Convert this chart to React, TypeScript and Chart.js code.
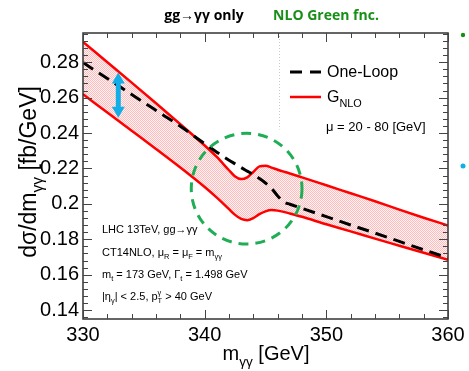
import { useEffect, useRef } from 'react';
import { Chart, registerables } from 'chart.js';
Chart.register(...registerables);

// ---- data ----
const massGeV = [330, 332, 334, 336, 338, 340, 341, 342, 342.5, 343, 343.5, 344, 344.5, 345, 345.5, 346, 346.5, 347, 348, 350, 352, 354, 356, 358, 360];
const gnloUpper = [0.2915, 0.28, 0.2685, 0.2568, 0.245, 0.233, 0.2265, 0.219, 0.2155, 0.214, 0.215, 0.218, 0.2212, 0.2215, 0.2205, 0.2193, 0.2182, 0.2172, 0.215, 0.2105, 0.206, 0.2015, 0.1968, 0.1922, 0.1878];
const gnloLower = [0.2619, 0.2516, 0.2413, 0.231, 0.2205, 0.2095, 0.2035, 0.197, 0.1938, 0.1915, 0.1908, 0.192, 0.1942, 0.1958, 0.1965, 0.1962, 0.1955, 0.1946, 0.1927, 0.1885, 0.1845, 0.1804, 0.1764, 0.1724, 0.1684];
const oneLoop = [0.2798, 0.2708, 0.2618, 0.2528, 0.2438, 0.234, 0.2292, 0.2247, 0.2226, 0.2205, 0.2185, 0.2165, 0.2143, 0.2118, 0.2088, 0.2045, 0.2012, 0.1998, 0.1975, 0.1928, 0.1881, 0.1835, 0.1788, 0.1741, 0.1695];

const xRange = [330, 360];
const yRange = [0.135, 0.2965];
const xTickValues = [330, 340, 350, 360];
const xTickLabels = ['330', '340', '350', '360'];
const yTickValues = [0.14, 0.16, 0.18, 0.2, 0.22, 0.24, 0.26, 0.28];
const yTickLabels = ['0.14', '0.16', '0.18', '0.2', '0.22', '0.24', '0.26', '0.28'];
const xMinorStep = 2;
const yMinorStep = 0.004;

const circleCenter = { x: 343.45, y: 0.2086 };
const circleRadiusGeV = 4.55;
const arrowX = 332.9;
const arrowRange = [0.2487, 0.2742];
const markerLineX = 346.1;
const markerLineBottom = 0.242;

const FONT = "'Liberation Sans', Arial, Helvetica, sans-serif";

type Seg = { t: string; s?: 'sub' | 'sup'; keep?: boolean };

function richWidth(ctx: CanvasRenderingContext2D, segs: Seg[], size: number, weight = '') {
  let w = 0;
  let kept = 0;
  for (const sg of segs) {
    const sz = sg.s ? size * 0.68 : size;
    ctx.font = `${weight} ${sz}px ${FONT}`;
    const sw = ctx.measureText(sg.t).width;
    if (sg.keep) { kept = sw; continue; }
    w += Math.max(sw, kept);
    kept = 0;
  }
  return w;
}

function drawRich(ctx: CanvasRenderingContext2D, segs: Seg[], x: number, y: number, size: number, align: 'left' | 'center', color: string, weight = '') {
  const total = richWidth(ctx, segs, size, weight);
  let cx = align === 'center' ? x - total / 2 : x;
  ctx.fillStyle = color;
  ctx.textAlign = 'left';
  ctx.textBaseline = 'alphabetic';
  let kept = 0;
  for (const sg of segs) {
    const sz = sg.s ? size * 0.68 : size;
    ctx.font = `${weight} ${sz}px ${FONT}`;
    const off = sg.s === 'sub' ? size * 0.3 : sg.s === 'sup' ? -size * 0.42 : 0;
    ctx.fillText(sg.t, cx, y + off);
    const sw = ctx.measureText(sg.t).width;
    if (sg.keep) { kept = sw; continue; }
    cx += Math.max(sw, kept);
    kept = 0;
  }
}

const decorPlugin = {
  id: 'decor',
  afterDatasetsDraw(chart: any) {
    const ctx: CanvasRenderingContext2D = chart.ctx;
    const xs = chart.scales.x;
    const ys = chart.scales.y;
    const a = chart.chartArea;
    ctx.save();

    // dotted vertical marker line
    ctx.strokeStyle = '#c8c8c8';
    ctx.lineWidth = 1;
    ctx.setLineDash([1, 2]);
    const mx = Math.round(xs.getPixelForValue(markerLineX)) + 0.5;
    ctx.beginPath();
    ctx.moveTo(mx, a.top);
    ctx.lineTo(mx, ys.getPixelForValue(markerLineBottom));
    ctx.stroke();

    // green dashed circle
    const cx = xs.getPixelForValue(circleCenter.x);
    const cy = ys.getPixelForValue(circleCenter.y);
    const r = xs.getPixelForValue(circleCenter.x + circleRadiusGeV) - cx;
    ctx.strokeStyle = '#1fae55';
    ctx.lineWidth = 3;
    ctx.setLineDash([10, 7]);
    ctx.beginPath();
    ctx.arc(cx, cy, r, 0, Math.PI * 2);
    ctx.stroke();
    ctx.setLineDash([]);

    // blue double arrow
    const ax = xs.getPixelForValue(arrowX);
    const ay1 = ys.getPixelForValue(arrowRange[1]);
    const ay2 = ys.getPixelForValue(arrowRange[0]);
    ctx.fillStyle = '#12aee8';
    ctx.strokeStyle = '#12aee8';
    ctx.lineWidth = 5;
    ctx.beginPath();
    ctx.moveTo(ax, ay1 + 8);
    ctx.lineTo(ax, ay2 - 8);
    ctx.stroke();
    ctx.beginPath();
    ctx.moveTo(ax, ay1);
    ctx.lineTo(ax - 6.5, ay1 + 11);
    ctx.lineTo(ax + 6.5, ay1 + 11);
    ctx.closePath();
    ctx.fill();
    ctx.beginPath();
    ctx.moveTo(ax, ay2);
    ctx.lineTo(ax - 6.5, ay2 - 11);
    ctx.lineTo(ax + 6.5, ay2 - 11);
    ctx.closePath();
    ctx.fill();

    // frame
    ctx.strokeStyle = '#333';
    ctx.lineWidth = 1.5;
    ctx.strokeRect(a.left, a.top, a.right - a.left, a.bottom - a.top);

    // ticks on all sides
    ctx.lineWidth = 1;
    ctx.strokeStyle = '#444';
    ctx.beginPath();
    for (let v = xRange[0]; v <= xRange[1] + 1e-9; v += xMinorStep) {
      const px = Math.round(xs.getPixelForValue(v)) + 0.5;
      const major = Math.abs(v / 10 - Math.round(v / 10)) < 1e-6;
      const len = major ? 9 : 5;
      ctx.moveTo(px, a.bottom); ctx.lineTo(px, a.bottom - len);
      ctx.moveTo(px, a.top); ctx.lineTo(px, a.top + len);
    }
    const k0 = Math.ceil(yRange[0] / yMinorStep - 1e-6);
    const k1 = Math.floor(yRange[1] / yMinorStep + 1e-6);
    for (let k = k0; k <= k1; k++) {
      const v = k * yMinorStep;
      const py = Math.round(ys.getPixelForValue(v)) + 0.5;
      const major = k % 5 === 0;
      const len = major ? 9 : 5;
      ctx.moveTo(a.left, py); ctx.lineTo(a.left + len, py);
      ctx.moveTo(a.right, py); ctx.lineTo(a.right - len, py);
    }
    ctx.stroke();

    // legend
    const lx = a.right - 158;
    ctx.lineWidth = 3;
    ctx.strokeStyle = '#000';
    ctx.setLineDash([12, 8]);
    ctx.beginPath();
    ctx.moveTo(lx, 72); ctx.lineTo(lx + 31, 72);
    ctx.stroke();
    ctx.setLineDash([]);
    ctx.strokeStyle = '#ff0000';
    ctx.lineWidth = 2.5;
    ctx.beginPath();
    ctx.moveTo(lx, 97); ctx.lineTo(lx + 31, 97);
    ctx.stroke();
    drawRich(ctx, [{ t: 'One-Loop' }], lx + 37, 77, 16, 'left', '#000');
    drawRich(ctx, [{ t: 'G' }, { t: 'NLO', s: 'sub' }], lx + 37, 102, 16, 'left', '#000');
    drawRich(ctx, [{ t: 'μ = 20 - 80 [GeV]' }], lx + 36, 131, 13, 'left', '#000');

    // info text
    const ix = a.left + 19;
    drawRich(ctx, [{ t: 'LHC 13TeV, gg→γγ' }], ix, 233, 11, 'left', '#000');
    drawRich(ctx, [{ t: 'CT14NLO, μ' }, { t: 'R', s: 'sub' }, { t: ' = μ' }, { t: 'F', s: 'sub' }, { t: ' = m' }, { t: 'γγ', s: 'sub' }], ix, 256, 11, 'left', '#000');
    drawRich(ctx, [{ t: 'm' }, { t: 't', s: 'sub' }, { t: ' = 173 GeV, Γ' }, { t: 't', s: 'sub' }, { t: ' = 1.498 GeV' }], ix, 278, 11, 'left', '#000');
    drawRich(ctx, [{ t: '|η' }, { t: 'γ', s: 'sub' }, { t: '| < 2.5, p' }, { t: 'γ', s: 'sup', keep: true }, { t: 'T', s: 'sub' }, { t: ' > 40 GeV' }], ix, 300, 11, 'left', '#000');

    // axis titles
    drawRich(ctx, [{ t: 'm' }, { t: 'γγ', s: 'sub' }, { t: ' [GeV]' }], 266, 360, 20, 'center', '#000');
    ctx.save();
    ctx.translate(36, 172);
    ctx.rotate(-Math.PI / 2);
    drawRich(ctx, [{ t: 'dσ/dm' }, { t: 'γγ', s: 'sub' }, { t: ' [fb/GeV]' }], 0, 0, 23, 'center', '#000');
    ctx.restore();

    // header texts
    ctx.font = `bold 14px 'Open Sans', sans-serif`;
    ctx.textBaseline = 'alphabetic';
    ctx.textAlign = 'center';
    ctx.fillStyle = '#000';
    ctx.fillText('gg→γγ only', 204, 20);
    ctx.fillStyle = '#178f17';
    ctx.fillText('NLO Green fnc.', 326, 20);

    // slide bullets
    ctx.fillStyle = '#178f17';
    ctx.beginPath(); ctx.arc(463, 35, 2.2, 0, Math.PI * 2); ctx.fill();
    ctx.fillStyle = '#12aee8';
    ctx.beginPath(); ctx.arc(463, 166, 2.5, 0, Math.PI * 2); ctx.fill();

    ctx.restore();
  },
};

export default function App() {
  const ref = useRef<HTMLCanvasElement | null>(null);
  useEffect(() => {
    const canvas = ref.current;
    if (!canvas) return;
    const pc = document.createElement('canvas');
    pc.width = 2; pc.height = 2;
    const pctx = pc.getContext('2d')!;
    pctx.fillStyle = 'rgba(255,0,0,0.26)';
    pctx.fillRect(0, 0, 1, 1); pctx.fillRect(1, 1, 1, 1);
    pctx.fillStyle = 'rgba(255,0,0,0.05)';
    pctx.fillRect(1, 0, 1, 1); pctx.fillRect(0, 1, 1, 1);
    const pattern = canvas.getContext('2d')!.createPattern(pc, 'repeat');

    const pts = (ys: number[]) => massGeV.map((x, i) => ({ x, y: ys[i] }));
    const chart = new Chart(canvas, {
      type: 'line',
      data: {
        datasets: [
          { label: 'One-Loop', data: pts(oneLoop), borderColor: '#000', borderWidth: 3, borderDash: [12, 7], pointRadius: 0, fill: false, cubicInterpolationMode: 'monotone' },
          { label: 'G_NLO upper', data: pts(gnloUpper), borderColor: '#ff0000', borderWidth: 2.5, pointRadius: 0, fill: '+1', backgroundColor: pattern as any, cubicInterpolationMode: 'monotone' },
          { label: 'G_NLO lower', data: pts(gnloLower), borderColor: '#ff0000', borderWidth: 2.5, pointRadius: 0, fill: false, cubicInterpolationMode: 'monotone' },
        ],
      },
      options: {
        animation: false,
        responsive: true,
        maintainAspectRatio: false,
        layout: { padding: { top: 33, right: 21, left: 0, bottom: 0 } },
        plugins: {
          legend: { display: false },
          tooltip: { enabled: false },
          filler: { drawTime: 'beforeDatasetsDraw' } as any,
        },
        scales: {
          x: {
            type: 'linear',
            min: xRange[0],
            max: xRange[1],
            grid: { display: false, drawTicks: false },
            border: { display: false },
            afterBuildTicks: (s: any) => { s.ticks = xTickValues.map((v) => ({ value: v })); },
            afterFit: (s: any) => { s.height = 52; },
            ticks: {
              padding: 4,
              autoSkip: false,
              maxRotation: 0,
              color: '#000',
              font: { family: FONT, size: 20 },
              callback: (v: any) => xTickLabels[xTickValues.indexOf(Number(v))] ?? '',
            },
          },
          y: {
            type: 'linear',
            min: yRange[0],
            max: yRange[1],
            grid: { display: false, drawTicks: false },
            border: { display: false },
            afterBuildTicks: (s: any) => { s.ticks = yTickValues.map((v) => ({ value: v })); },
            afterFit: (s: any) => { s.width = 83; },
            ticks: {
              padding: 4,
              autoSkip: false,
              color: '#000',
              font: { family: FONT, size: 20 },
              callback: (v: any) => {
                const i = yTickValues.findIndex((t) => Math.abs(t - Number(v)) < 1e-9);
                return i >= 0 ? yTickLabels[i] : '';
              },
            },
          },
        },
      },
      plugins: [decorPlugin],
    });
    return () => chart.destroy();
  }, []);

  return (
    <div style={{ position: 'fixed', left: 0, top: 0, width: 469, height: 371, background: '#fff' }}>
      <canvas ref={ref} />
    </div>
  );
}
